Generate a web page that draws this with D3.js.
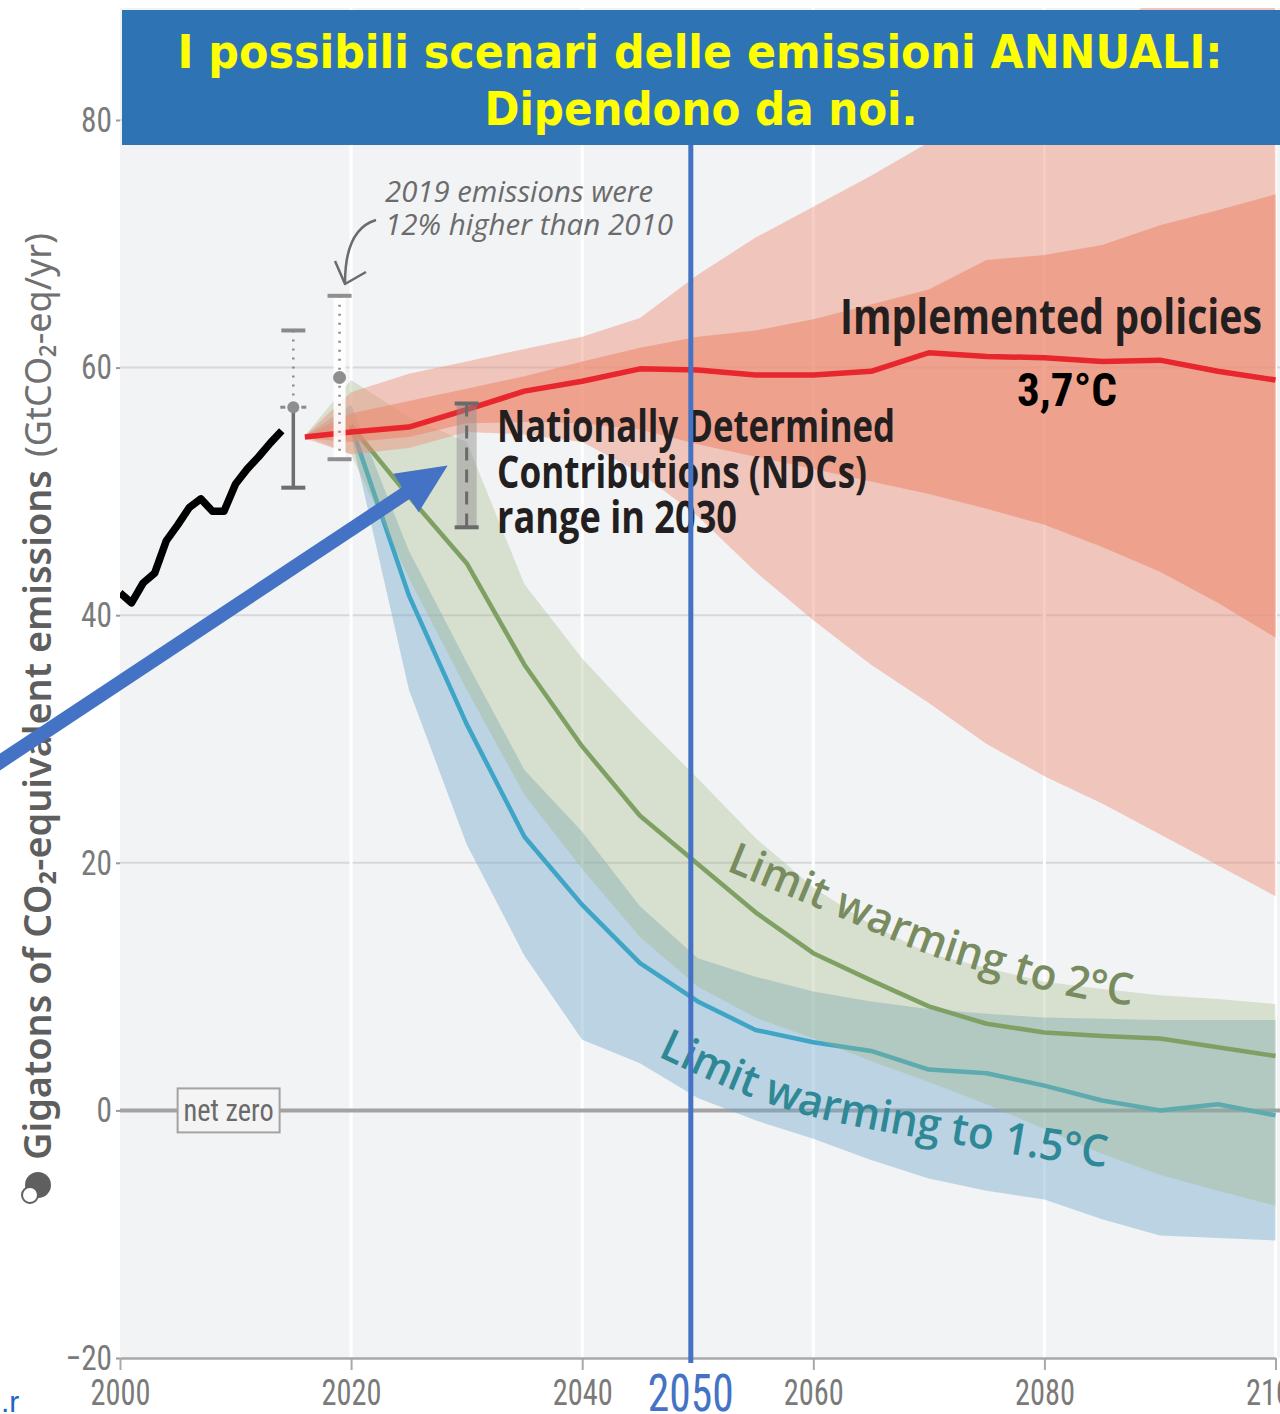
<!DOCTYPE html>
<html>
<head>
<meta charset="utf-8">
<script src="https://cdn.jsdelivr.net/npm/d3@7"></script>
<style>
  html, body { margin: 0; padding: 0; background: #ffffff; }
  svg { display: block; }
</style>
</head>
<body>
<svg id="chart" width="1280" height="1414"></svg>
<script>
// ---- Data (GtCO2-eq/yr) ----
const histYears  = [2000, 2001, 2002, 2003, 2004, 2005, 2006, 2007, 2008, 2009, 2010, 2011, 2012, 2013, 2014];
const histValues = [41.8, 41.0, 42.6, 43.4, 46.0, 47.3, 48.7, 49.4, 48.4, 48.4, 50.6, 51.8, 52.8, 53.9, 54.9];

// projection years shared by the shaded ranges
const projYears = [2016, 2020, 2025, 2030, 2035, 2040, 2045, 2050, 2055, 2060, 2065, 2070, 2075, 2080, 2085, 2090, 2095, 2100];

// Implemented policies
const policyMedian    = [54.4, 54.8, 55.2, 56.6, 58.1, 58.9, 59.9, 59.8, 59.4, 59.4, 59.7, 61.2, 60.9, 60.8, 60.5, 60.6, 59.7, 59.0];
const policyOuterHigh = [54.5, 58.0, 59.5, 60.5, 61.5, 62.5, 64.0, 67.5, 70.5, 73.0, 75.5, 78.2, 81.0, 84.0, 87.0, 90.0, 93.0, 96.0];
const policyOuterLow  = [54.3, 53.0, 53.5, 54.8, 54.6, 54.0, 51.5, 48.0, 43.5, 39.6, 36.0, 32.9, 29.6, 27.0, 24.8, 22.3, 19.8, 17.3];
const policyInnerHigh = [54.5, 56.3, 57.3, 58.3, 59.3, 60.5, 61.6, 62.5, 63.0, 63.9, 65.1, 66.3, 68.7, 69.1, 69.9, 71.5, 72.7, 74.0];
const policyInnerLow  = [54.3, 54.0, 54.4, 55.5, 55.6, 55.5, 55.0, 53.8, 52.8, 51.8, 50.8, 49.8, 48.6, 47.3, 45.5, 43.5, 41.0, 38.2];

// Limit warming to 2°C
const twoHigh = [54.5, 59.0, 56.0, 54.0, 42.5, 36.5, 31.5, 26.8, 22.0, 18.0, 15.0, 12.7, 11.5, 10.4, 9.8, 9.3, 9.0, 8.6];
const twoLow  = [54.5, 53.0, 43.0, 34.0, 25.5, 19.5, 14.0, 10.0, 7.5, 5.8, 4.0, 2.3, 0.5, -1.5, -3.5, -5.2, -6.5, -7.7];

// Limit warming to 1.5°C
const oneHigh = [54.5, 57.0, 45.2, 36.2, 27.5, 22.5, 16.5, 12.3, 10.8, 9.6, 8.8, 8.2, 7.8, 7.5, 7.4, 7.3, 7.3, 7.3];
const oneLow  = [54.5, 54.5, 34.0, 21.5, 12.5, 5.7, 3.8, 1.0, -0.8, -2.3, -4.0, -5.5, -6.5, -7.2, -8.8, -10.1, -10.3, -10.5];

// pathway medians
const pathwayYears = [2020, 2025, 2030, 2035, 2040, 2045, 2050, 2055, 2060, 2065, 2070, 2075, 2080, 2085, 2090, 2095, 2100];
const twoMedian = [55.3, 49.6, 44.2, 36.0, 29.4, 23.8, 19.9, 16.0, 12.7, 10.5, 8.4, 7.0, 6.3, 6.0, 5.8, 5.1, 4.4];
const oneMedian = [55.3, 41.6, 31.2, 22.1, 16.6, 11.9, 8.8, 6.5, 5.5, 4.8, 3.3, 3.0, 2.0, 0.8, 0.0, 0.5, -0.4];

// observed uncertainty bars
const obsYears = [2015, 2019];
const obsCentre = [56.8, 59.2];
const obsLow = [50.3, 52.6];
const obsHigh = [63.0, 65.8];

// NDC range in 2030
const ndcYear = 2030;
const ndcLow = 47.1;
const ndcHigh = 57.1;

// axes
const yTicks = [-20, 0, 20, 40, 60, 80];
const xTicks = [2000, 2020, 2040, 2060, 2080, 2100];
const highlightYear = 2049.4;

// label baselines (year, value)
const twoLabelPath = [[2052.4, 19.4], [2062.6, 15.5], [2069.8, 12.5], [2075.5, 11.0], [2081.5, 9.2], [2087.0, 8.5], [2093.0, 8.0]];
const oneLabelPath = [[2046.5, 4.4], [2056.3, 0.1], [2065.7, -1.7], [2072.9, -2.8], [2079.3, -3.9], [2085.2, -4.6], [2091.0, -5.1]];

// ---- Scales ----
const svg = d3.select("#chart");
const x = d3.scaleLinear().domain([2000, 2100]).range([120, 1275.5]);
const y = d3.scaleLinear().domain([-20, 80]).range([1358, 120]);

const NARROW = "'Liberation Sans Narrow','Arial Narrow','Roboto Condensed','Open Sans',sans-serif";
const plotTop = 8, plotBottom = y(-20), plotLeft = x(2000), plotRight = 1280;

const defs = svg.append("defs");
defs.append("clipPath").attr("id", "plotClip")
  .append("rect").attr("x", plotLeft).attr("y", plotTop)
  .attr("width", plotRight - plotLeft).attr("height", plotBottom - plotTop);

// plot background
svg.append("rect")
  .attr("x", plotLeft).attr("y", plotTop)
  .attr("width", plotRight - plotLeft).attr("height", plotBottom - plotTop)
  .attr("fill", "#f2f3f5");

// grid
const grid = svg.append("g");
grid.selectAll("line.h").data(yTicks.filter(d => d > -20 && d !== 0)).join("line")
  .attr("x1", plotLeft).attr("x2", plotRight)
  .attr("y1", d => y(d)).attr("y2", d => y(d))
  .attr("stroke", "#d7d8dc").attr("stroke-width", 2);
grid.selectAll("line.v").data(xTicks.filter(d => d > 2000)).join("line")
  .attr("x1", d => x(d)).attr("x2", d => x(d))
  .attr("y1", plotTop).attr("y2", plotBottom)
  .attr("stroke", "#ffffff").attr("stroke-width", 3);

// net zero line
svg.append("line")
  .attr("x1", plotLeft).attr("x2", plotRight)
  .attr("y1", y(0)).attr("y2", y(0))
  .attr("stroke", "#a3a3a5").attr("stroke-width", 4);

// ---- Shaded ranges and medians ----
const plot = svg.append("g").attr("clip-path", "url(#plotClip)");
const band = (lo, hi) => projYears.map((yr, i) => ({ year: yr, lo: lo[i], hi: hi[i] }));
const area = d3.area().x(d => x(d.year)).y0(d => y(d.lo)).y1(d => y(d.hi));
const line = d3.line().x(d => x(d[0])).y(d => y(d[1]));

// 1.5°C range and median
plot.append("path").attr("d", area(band(oneLow, oneHigh)))
  .attr("fill", "#6fa8c8").attr("fill-opacity", 0.42);
plot.append("path").attr("d", line(pathwayYears.map((yr, i) => [yr, oneMedian[i]])))
  .attr("fill", "none").attr("stroke", "#3ea5c6").attr("stroke-width", 4.5).attr("stroke-linejoin", "round");

// 2°C range and median
plot.append("path").attr("d", area(band(twoLow, twoHigh)))
  .attr("fill", "#9fb57f").attr("fill-opacity", 0.32);
plot.append("path").attr("d", line(pathwayYears.map((yr, i) => [yr, twoMedian[i]])))
  .attr("fill", "none").attr("stroke", "#7ea063").attr("stroke-width", 4.5).attr("stroke-linejoin", "round");

// implemented policies ranges and median
plot.append("path").attr("d", area(band(policyOuterLow, policyOuterHigh)))
  .attr("fill", "#ee8f78").attr("fill-opacity", 0.45);
plot.append("path").attr("d", area(band(policyInnerLow, policyInnerHigh)))
  .attr("fill", "#ec8a70").attr("fill-opacity", 0.6);
plot.append("path").attr("d", line(projYears.map((yr, i) => [yr, policyMedian[i]])))
  .attr("fill", "none").attr("stroke", "#e8262e").attr("stroke-width", 5.5).attr("stroke-linejoin", "round");

// historical emissions
plot.append("path").attr("d", line(histYears.map((yr, i) => [yr, histValues[i]])))
  .attr("fill", "none").attr("stroke", "#000000").attr("stroke-width", 7.5)
  .attr("stroke-linejoin", "round");

// ---- Observed uncertainty bars ----
const bars = svg.append("g");
// 2015 bar
{
  const cx = x(obsYears[0]);
  bars.append("line").attr("x1", cx).attr("x2", cx).attr("y1", y(obsHigh[0])).attr("y2", y(obsCentre[0]))
    .attr("stroke", "#8a8a8a").attr("stroke-width", 2.5).attr("stroke-dasharray", "2,7");
  bars.append("line").attr("x1", cx).attr("x2", cx).attr("y1", y(obsCentre[0])).attr("y2", y(obsLow[0]))
    .attr("stroke", "#6e6e6e").attr("stroke-width", 3.5);
  [obsHigh[0], obsLow[0]].forEach(v => bars.append("line")
    .attr("x1", cx - 12).attr("x2", cx + 12).attr("y1", y(v)).attr("y2", y(v))
    .attr("stroke", v === obsHigh[0] ? "#8a8a8a" : "#6e6e6e").attr("stroke-width", 4));
  [-1, 1].forEach(s => bars.append("line")
    .attr("x1", cx + s * 8).attr("x2", cx + s * 13).attr("y1", y(obsCentre[0])).attr("y2", y(obsCentre[0]))
    .attr("stroke", "#8a8a8a").attr("stroke-width", 3));
  bars.append("circle").attr("cx", cx).attr("cy", y(obsCentre[0])).attr("r", 6).attr("fill", "#8e8e8e");
}
// 2019 bar
{
  const cx = x(obsYears[1]);
  bars.append("rect").attr("x", cx - 6).attr("y", y(obsHigh[1])).attr("width", 12)
    .attr("height", y(obsLow[1]) - y(obsHigh[1])).attr("fill", "#ffffff").attr("opacity", 0.9);
  bars.append("line").attr("x1", cx).attr("x2", cx).attr("y1", y(obsHigh[1])).attr("y2", y(obsLow[1]))
    .attr("stroke", "#8a8a8a").attr("stroke-width", 2.5).attr("stroke-dasharray", "2,7");
  [obsHigh[1], obsLow[1]].forEach(v => bars.append("line")
    .attr("x1", cx - 12).attr("x2", cx + 12).attr("y1", y(v)).attr("y2", y(v))
    .attr("stroke", "#8f8f8f").attr("stroke-width", 4));
  bars.append("circle").attr("cx", cx).attr("cy", y(obsCentre[1])).attr("r", 6.5).attr("fill", "#8e8e8e");
}
// NDC range bar
{
  const cx = x(ndcYear);
  bars.append("rect").attr("x", cx - 10).attr("y", y(ndcHigh)).attr("width", 20)
    .attr("height", y(ndcLow) - y(ndcHigh)).attr("fill", "#8c8c8c").attr("opacity", 0.45);
  bars.append("line").attr("x1", cx).attr("x2", cx).attr("y1", y(ndcHigh)).attr("y2", y(ndcLow))
    .attr("stroke", "#6a6a6a").attr("stroke-width", 3).attr("stroke-dasharray", "13,9");
  [ndcHigh, ndcLow].forEach(v => bars.append("line")
    .attr("x1", cx - 12).attr("x2", cx + 12).attr("y1", y(v)).attr("y2", y(v))
    .attr("stroke", "#6a6a6a").attr("stroke-width", 4));
}

// ---- Annotations ----
const ann = svg.append("g");

// net zero tag
{
  const cx = x(2009.4), cy = y(0);
  ann.append("rect").attr("x", cx - 51).attr("y", cy - 22).attr("width", 102).attr("height", 44)
    .attr("fill", "#f4f4f5").attr("stroke", "#a3a3a5").attr("stroke-width", 2);
  ann.append("text").attr("x", cx).attr("y", cy + 11).attr("text-anchor", "middle")
    .attr("font-family", NARROW).attr("font-size", 31).attr("fill", "#6a6a6a")
    .attr("textLength", 90).attr("lengthAdjust", "spacingAndGlyphs").text("net zero");
}

// 2019 note with hand-drawn arrow
ann.append("text").attr("x", 385).attr("y", 202)
  .attr("font-family", "'Open Sans',sans-serif").attr("font-style", "italic").attr("font-size", 30)
  .attr("fill", "#6b6b6b").attr("textLength", 268).attr("lengthAdjust", "spacingAndGlyphs")
  .text("2019 emissions were");
ann.append("text").attr("x", 385).attr("y", 235)
  .attr("font-family", "'Open Sans',sans-serif").attr("font-style", "italic").attr("font-size", 30)
  .attr("fill", "#6b6b6b").attr("textLength", 288).attr("lengthAdjust", "spacingAndGlyphs")
  .text("12% higher than 2010");
{
  const p = d3.path();
  p.moveTo(376, 220);
  p.bezierCurveTo(356, 226, 345, 245, 345, 283);
  ann.append("path").attr("d", p.toString()).attr("fill", "none").attr("stroke", "#6b6b6b").attr("stroke-width", 2.5);
  const h = d3.path();
  h.moveTo(335, 261); h.lineTo(345, 284); h.lineTo(366, 272);
  ann.append("path").attr("d", h.toString()).attr("fill", "none").attr("stroke", "#6b6b6b")
    .attr("stroke-width", 2.5).attr("stroke-linejoin", "round");
}

// scenario labels
ann.append("text").attr("x", 840).attr("y", 334)
  .attr("font-family", "'Open Sans',sans-serif").attr("font-weight", 700).attr("font-size", 48)
  .attr("fill", "#231f20").attr("textLength", 422).attr("lengthAdjust", "spacingAndGlyphs")
  .text("Implemented policies");
ann.append("text").attr("x", 1017).attr("y", 406)
  .attr("font-family", NARROW).attr("font-weight", 700).attr("font-size", 47)
  .attr("fill", "#000000").attr("textLength", 100).attr("lengthAdjust", "spacingAndGlyphs")
  .text("3,7°C");

const ndcLines = ["Nationally Determined", "Contributions (NDCs)", "range in 2030"];
const ndcWidths = [398, 370, 240];
ann.selectAll("text.ndc").data(ndcLines).join("text")
  .attr("x", 497).attr("y", (d, i) => 442 + i * 45.5)
  .attr("font-family", "'Open Sans',sans-serif").attr("font-weight", 700).attr("font-size", 45)
  .attr("fill", "#231f20").attr("textLength", (d, i) => ndcWidths[i]).attr("lengthAdjust", "spacingAndGlyphs")
  .text(d => d);

// curved pathway labels
const curve = d3.line().x(d => x(d[0])).y(d => y(d[1])).curve(d3.curveBasis);
defs.append("path").attr("id", "twoLabel").attr("d", curve(twoLabelPath));
defs.append("path").attr("id", "oneLabel").attr("d", curve(oneLabelPath));
ann.append("text")
  .attr("font-family", "'Open Sans',sans-serif").attr("font-weight", 600).attr("font-size", 44)
  .attr("fill", "#788c5f")
  .append("textPath").attr("href", "#twoLabel").attr("textLength", 430).attr("lengthAdjust", "spacingAndGlyphs")
  .text("Limit warming to 2°C");
ann.append("text")
  .attr("font-family", "'Open Sans',sans-serif").attr("font-weight", 600).attr("font-size", 44)
  .attr("fill", "#2e8896")
  .append("textPath").attr("href", "#oneLabel").attr("textLength", 465).attr("lengthAdjust", "spacingAndGlyphs")
  .text("Limit warming to 1.5°C");

// ---- Axes ----
const yAxis = svg.append("g").attr("transform", `translate(${plotLeft},0)`)
  .call(d3.axisLeft(y).tickValues(yTicks).tickSize(4).tickPadding(4)
    .tickFormat(d => d < 0 ? "\u2212" + Math.abs(d) : String(d)));
yAxis.select(".domain").remove();
yAxis.selectAll(".tick line").attr("stroke", "#9a9a9a").attr("stroke-width", 2);
yAxis.selectAll(".tick text")
  .attr("font-family", NARROW).attr("font-size", 35).attr("fill", "#7a7a7a")
  .attr("textLength", d => (d < 0 ? 3 : String(d).length) * 15.5).attr("lengthAdjust", "spacingAndGlyphs");

const xAxis = svg.append("g").attr("transform", `translate(0,${plotBottom})`)
  .call(d3.axisBottom(x).tickValues(xTicks).tickSize(12).tickSizeOuter(0).tickFormat(d3.format("d")));
xAxis.select(".domain").attr("stroke", "#a8a8a8").attr("stroke-width", 2.5);
xAxis.selectAll(".tick line").attr("stroke", "#a8a8a8").attr("stroke-width", 2);
xAxis.selectAll(".tick text")
  .attr("y", 47).attr("dy", 0)
  .attr("font-family", NARROW).attr("font-size", 37).attr("fill", "#7a7a7a")
  .attr("textLength", 60).attr("lengthAdjust", "spacingAndGlyphs");

// y-axis title
svg.append("text").attr("transform", "translate(51,1160) rotate(-90)")
  .attr("font-family", "'Noto Sans',sans-serif").attr("font-weight", 600).attr("font-size", 37)
  .attr("fill", "#5e5e5e").attr("textLength", 690).attr("lengthAdjust", "spacingAndGlyphs")
  .text("Gigatons of CO\u2082-equivalent emissions");
svg.append("text").attr("transform", "translate(51,457) rotate(-90)")
  .attr("font-family", "'Noto Sans',sans-serif").attr("font-weight", 400).attr("font-size", 37)
  .attr("fill", "#707070").attr("textLength", 224).attr("lengthAdjust", "spacingAndGlyphs")
  .text("(GtCO\u2082-eq/yr)");
// small badge below the title
svg.append("circle").attr("cx", 38).attr("cy", 1185).attr("r", 13).attr("fill", "#5f5f5f");
svg.append("circle").attr("cx", 30).attr("cy", 1195).attr("r", 8).attr("fill", "#ffffff")
  .attr("stroke", "#5f5f5f").attr("stroke-width", 2);

// ---- Overlay: 2050 marker, heading, pointer ----
const hx = x(highlightYear);
svg.append("line").attr("x1", hx).attr("x2", hx).attr("y1", 145).attr("y2", plotBottom + 5)
  .attr("stroke", "#4472c4").attr("stroke-width", 5);
svg.append("text").attr("x", hx).attr("y", 1411).attr("text-anchor", "middle")
  .attr("font-family", NARROW).attr("font-size", 51).attr("fill", "#4472c4")
  .attr("textLength", 86).attr("lengthAdjust", "spacingAndGlyphs").text("2050");

svg.append("rect").attr("x", 122).attr("y", 10).attr("width", 1158).attr("height", 135).attr("fill", "#2e74b5");
svg.append("text").attr("x", 700).attr("y", 68).attr("text-anchor", "middle")
  .attr("font-family", "'DejaVu Sans',sans-serif").attr("font-weight", 700).attr("font-size", 46)
  .attr("fill", "#ffff00").attr("textLength", 1045).attr("lengthAdjust", "spacingAndGlyphs")
  .text("I possibili scenari delle emissioni ANNUALI:");
svg.append("text").attr("x", 701).attr("y", 125).attr("text-anchor", "middle")
  .attr("font-family", "'DejaVu Sans',sans-serif").attr("font-weight", 700).attr("font-size", 46)
  .attr("fill", "#ffff00").attr("textLength", 433).attr("lengthAdjust", "spacingAndGlyphs")
  .text("Dipendono da noi.");

// pointer arrow aimed at the NDC range
{
  const tip = [x(ndcYear) - 19, y(52.1)];
  const tail = [0, 762];
  const dx = tip[0] - tail[0], dy = tip[1] - tail[1];
  const len = Math.hypot(dx, dy);
  const ux = dx / len, uy = dy / len, nx = -uy, ny = ux;
  const headLen = 50, headHalf = 23;
  const base = [tip[0] - ux * headLen, tip[1] - uy * headLen];
  svg.append("line").attr("x1", tail[0] - ux * 20).attr("y1", tail[1] - uy * 20)
    .attr("x2", base[0] + ux * 2).attr("y2", base[1] + uy * 2)
    .attr("stroke", "#4472c4").attr("stroke-width", 14);
  svg.append("path")
    .attr("d", `M${tip[0]},${tip[1]}L${base[0] + nx * headHalf},${base[1] + ny * headHalf}L${base[0] - nx * headHalf},${base[1] - ny * headHalf}Z`)
    .attr("fill", "#4472c4");
}

// fragment of a link at the lower-left corner
svg.append("text").attr("x", 1).attr("y", 1412)
  .attr("font-family", "'Liberation Sans',sans-serif").attr("font-size", 30).attr("fill", "#1f63c6")
  .text(".r");
</script>
</body>
</html>
